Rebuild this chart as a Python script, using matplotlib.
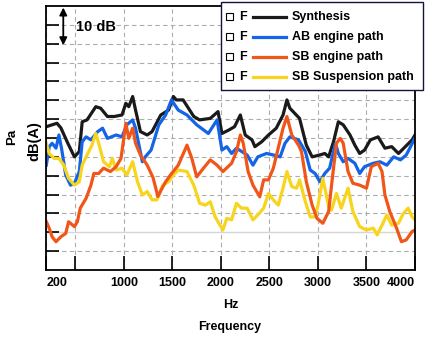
import matplotlib
matplotlib.use("Agg")
import matplotlib.pyplot as plt
from matplotlib.patches import Rectangle
from matplotlib.lines import Line2D

plt.rcParams['font.family'] = ['Liberation Sans', 'DejaVu Sans']
plt.rcParams['font.weight'] = 'bold'

# ---------------- data ----------------
series_names = ["Synthesis", "AB engine path", "SB engine path", "SB Suspension path"]
series_colors = ["#1a1a1a", "#1464e6", "#f0561a", "#f8d41c"]

synth_freq = [200, 260, 310, 350, 420, 490, 540, 570, 620, 710, 760, 830, 900, 980, 1020, 1050, 1090,
              1120, 1170, 1240, 1290, 1380, 1460, 1510, 1540, 1610, 1720, 1780, 1890, 1970, 2010, 2080,
              2140, 2200, 2250, 2320, 2350, 2420, 2490, 2570, 2640, 2680, 2710, 2810, 2880, 2940, 3020,
              3070, 3110, 3160, 3210, 3260, 3330, 3380, 3430, 3480, 3540, 3620, 3690, 3760, 3830, 3900,
              3970, 4000]
synth_db = [38.0, 38.5, 38.9, 37.7, 33.7, 30.0, 31.4, 39.3, 39.8, 43.3, 42.9, 40.7, 40.7, 41.1, 44.2, 43.3, 46.0,
            42.4, 36.7, 35.8, 36.7, 41.1, 42.4, 46.0, 45.1, 45.1, 40.7, 39.8, 40.2, 42.0, 36.2, 37.1,
            38.0, 41.1, 35.8, 34.5, 32.7, 34.0, 35.8, 37.6, 41.1, 45.1, 42.9, 40.2, 33.1, 30.0, 30.5,
            30.9, 30.0, 34.0, 39.3, 38.5, 35.8, 33.1, 30.9, 31.8, 34.5, 35.3, 32.3, 32.7, 30.9, 32.7,
            34.5, 35.8]

ab_freq = [200, 230, 260, 300, 330, 360, 400, 450, 490, 540, 570, 610, 660, 730, 780, 830, 920, 980, 1030,
           1090, 1120, 1190, 1220, 1280, 1360, 1430, 1490, 1560, 1650, 1750, 1870, 1960, 2010, 2060, 2110,
           2160, 2270, 2330, 2380, 2470, 2540, 2610, 2660, 2710, 2800, 2870, 2920, 2970, 3020, 3070, 3120,
           3180, 3210, 3260, 3310, 3380, 3430, 3480, 3570, 3640, 3710, 3780, 3850, 3910, 3980, 4000]
ab_db = [27.8, 32.7, 33.6, 32.3, 35.8, 31.8, 25.2, 22.5, 23.0, 26.1, 34.0, 35.3, 34.5, 36.7, 37.6, 34.9, 35.8, 35.3, 38.5,
         39.8, 37.6, 28.7, 30.0, 31.8, 38.5, 41.1, 45.1, 42.4, 41.1, 38.5, 36.2, 39.8, 31.8, 32.7, 30.9,
         32.3, 30.5, 27.8, 30.0, 30.9, 30.5, 30.0, 33.6, 35.3, 34.5, 31.4, 26.5, 25.6, 23.4, 25.6, 27.0,
         33.6, 30.9, 28.7, 29.6, 28.3, 25.6, 27.4, 28.3, 28.7, 27.8, 30.0, 29.2, 30.5, 34.0, 35.0]

sbe_freq = [200, 230, 260, 300, 350, 400, 430, 490, 520, 550, 610, 660, 690, 740, 790, 860, 920, 970, 1020,
            1050, 1090, 1120, 1170, 1240, 1300, 1350, 1390, 1430, 1480, 1560, 1650, 1700, 1750, 1820, 1890,
            1960, 2020, 2110, 2160, 2200, 2230, 2280, 2330, 2400, 2440, 2490, 2540, 2590, 2640, 2680, 2730,
            2800, 2830, 2880, 2940, 2990, 3050, 3110, 3140, 3190, 3230, 3260, 3310, 3360, 3430, 3500, 3550,
            3620, 3660, 3690, 3740, 3810, 3860, 3910, 3970, 4000]
sbe_db = [12.8, 11.1, 8.8, 7.5, 8.8, 9.7, 12.8, 11.5, 12.8, 16.4, 19.0, 22.5, 25.6, 25.6, 27.0, 26.1, 27.4, 29.6, 38.9,
          34.9, 37.6, 33.6, 30.5, 27.8, 24.5, 19.5, 21.5, 23.4, 25.2, 27.8, 33.1, 29.6, 24.7, 27.0, 29.2,
          27.8, 26.1, 28.3, 31.4, 35.8, 33.6, 26.1, 22.5, 19.4, 23.9, 23.9, 27.0, 32.3, 37.6, 40.7, 35.8,
          33.1, 31.4, 23.4, 17.2, 13.7, 12.4, 15.5, 22.5, 33.6, 34.9, 33.6, 26.1, 23.0, 22.5, 21.7, 27.4,
          28.3, 26.1, 19.9, 15.5, 11.1, 7.5, 8.0, 10.2, 10.6]

sbs_freq = [200, 230, 280, 330, 380, 430, 490, 540, 570, 620, 670, 710, 740, 790, 850, 880, 920, 980, 1030,
            1090, 1140, 1190, 1240, 1290, 1340, 1400, 1460, 1510, 1560, 1650, 1720, 1780, 1840, 1890, 1940,
            1990, 2020, 2060, 2110, 2160, 2210, 2270, 2330, 2380, 2440, 2490, 2540, 2590, 2640, 2680, 2730,
            2780, 2810, 2870, 2920, 2970, 3000, 3050, 3110, 3140, 3190, 3240, 3310, 3360, 3430, 3500, 3570,
            3610, 3660, 3710, 3760, 3830, 3880, 3930, 3970, 4000]
sbs_db = [33.6, 30.9, 29.6, 29.6, 27.8, 24.3, 22.5, 23.4, 27.8, 30.5, 33.1, 36.2, 33.6, 28.7, 27.4, 29.6, 26.5, 27.0, 25.2,
          28.7, 23.4, 19.9, 20.8, 18.6, 18.6, 22.5, 23.4, 25.2, 26.5, 26.1, 22.5, 17.7, 17.2, 18.1, 14.1,
          11.9, 10.6, 13.7, 13.3, 17.7, 16.4, 16.4, 13.3, 14.6, 16.4, 20.3, 18.6, 17.2, 21.7, 26.1, 22.1,
          21.7, 23.9, 18.1, 14.1, 14.1, 17.2, 24.3, 16.8, 15.9, 20.3, 16.4, 21.7, 15.5, 11.5, 10.6, 11.1,
          9.3, 11.9, 14.6, 11.9, 12.4, 15.0, 16.4, 14.1, 13.3]

x_ticks = [200, 500, 1000, 1500, 2000, 2500, 3000, 3500, 4000]
x_tick_labels = ["200", "", "1000", "1500", "2000", "2500", "3000", "3500", "4000"]
y_ticks = [5, 10, 15, 20, 25, 30, 35, 40, 45, 50, 55, 60, 65]

# ---------------- figure ----------------
W, H = 431, 340
fig = plt.figure(figsize=(W / 100, H / 100), dpi=100)
L, R, T, B = 46.3, 415, 6, 270
ax = fig.add_axes([L / W, 1 - B / H, (R - L) / W, (B - T) / H])
ax.set_xlim(200, 4000)
ax.set_ylim(0, 70)

ax.set_xticks(x_ticks)
ax.set_xticklabels(x_tick_labels, fontsize=9, fontweight='bold')
lbls = ax.get_xticklabels()
lbls[0].set_horizontalalignment('left')
lbls[-1].set_horizontalalignment('right')
ax.set_yticks(y_ticks)
ax.set_yticklabels([])
ax.tick_params(axis='both', direction='in', length=10, width=1.2, color='black', pad=5)
ax.tick_params(axis='y', length=9)
for s in ax.spines.values():
    s.set_linewidth(1.3)

ax.grid(True, linestyle=(0, (4, 3)), color='#acacac', linewidth=0.8)
ax.set_axisbelow(True)
ax.yaxis.get_gridlines()[1].set_visible(False)
ax.axhline(10, color='#d6d6d6', linewidth=1.0, zorder=0.5)

lw = 2.3
all_series = [(synth_freq, synth_db), (ab_freq, ab_db), (sbs_freq, sbs_db), (sbe_freq, sbe_db)]
order_idx = [0, 1, 3, 2]
for (f, d), i in zip(all_series, order_idx):
    ax.plot(f, d, color=series_colors[i], linewidth=lw, solid_joinstyle='round')

# 10 dB arrow
ax.annotate('', xy=(375, 69.6), xytext=(375, 59.6),
            arrowprops=dict(arrowstyle='<|-|>', color='black', lw=1.3, mutation_scale=11,
                            shrinkA=0, shrinkB=0))
ax.text(510, 64.5, "10 dB", fontsize=10.5, fontweight='bold', ha='left', va='center')

# axis labels
def fx(x):
    return x / W

def fy(y):
    return 1 - y / H

fig.text(fx(12.5), fy(137), "Pa", rotation=90, fontsize=9.5, fontweight='bold', ha='center', va='center')
fig.text(fx(34), fy(141), "dB(A)", rotation=90, fontsize=10.5, fontweight='bold', ha='center', va='center')
fig.text(fx(230.5), fy(305), "Hz", fontsize=9, fontweight='bold', ha='center', va='center')
fig.text(fx(230), fy(327), "Frequency", fontsize=9, fontweight='bold', ha='center', va='center')

# legend (drawn manually)
box = Rectangle((fx(220.7), fy(90)), (423.3 - 220.7) / W, (90 - 1.7) / H, transform=fig.transFigure,
                facecolor='white', edgecolor='#14143a', linewidth=1.0, zorder=5)
fig.patches.append(box)
rows = [16.7, 36.7, 56.7, 76.7]
for name, col, ry in zip(series_names, series_colors, rows):
    sq = Rectangle((fx(226.2), fy(ry + 3.3)), 6.5 / W, 6.5 / H, transform=fig.transFigure,
                   facecolor='white', edgecolor='black', linewidth=0.8, zorder=6)
    fig.patches.append(sq)
    fig.text(fx(239.5), fy(ry), "F", fontsize=9, fontweight='bold', ha='left', va='center', zorder=7)
    fig.lines.append(Line2D([fx(252.7), fx(286)], [fy(ry), fy(ry)], transform=fig.transFigure,
                            color=col, linewidth=lw, zorder=7))
    fig.text(fx(291.7), fy(ry), name, fontsize=9, fontweight='bold', ha='left', va='center', zorder=7)

fig.savefig("out.png", dpi=100)
